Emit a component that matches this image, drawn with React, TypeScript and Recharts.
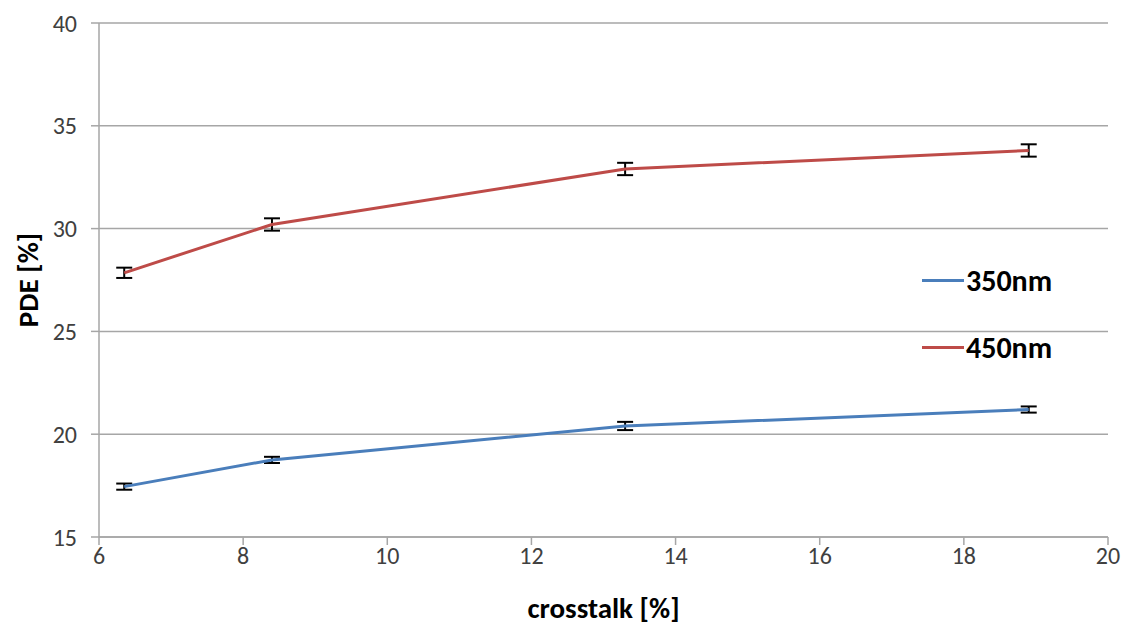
import {
  LineChart,
  Line,
  XAxis,
  YAxis,
  CartesianGrid,
  ErrorBar,
  Legend,
} from "recharts";

const crosstalk = [6.35, 8.4, 13.3, 18.9];
const pde350 = [17.45, 18.75, 20.4, 21.2];
const err350 = [0.15, 0.15, 0.2, 0.15];
const pde450 = [27.85, 30.2, 32.9, 33.8];
const err450 = [0.25, 0.3, 0.3, 0.3];

const xTicks = [6, 8, 10, 12, 14, 16, 18, 20];
const yTicks = [15, 20, 25, 30, 35, 40];

const BLUE = "#4a7ebb";
const RED = "#be4b48";
const FONT = "Carlito, 'Open Sans', sans-serif";

const data = crosstalk.map((x, i) => ({
  crosstalk: x,
  nm350: pde350[i],
  e350: err350[i],
  nm450: pde450[i],
  e450: err450[i],
}));

const legendItems = [
  { name: "350nm", color: BLUE },
  { name: "450nm", color: RED },
];

function LegendBox() {
  return (
    <div style={{ fontFamily: FONT }}>
      {legendItems.map((it, idx) => (
        <div
          key={it.name}
          style={{
            display: "flex",
            alignItems: "center",
            height: 36,
            marginBottom: idx === 0 ? 31 : 0,
          }}
        >
          <span
            style={{
              display: "inline-block",
              width: 42,
              height: 3,
              background: it.color,
              marginRight: 2,
            }}
          />
          <span style={{ fontSize: 30, fontWeight: 700, color: "#000" }}>
            {it.name}
          </span>
        </div>
      ))}
    </div>
  );
}

export default function App() {
  return (
    <div style={{ position: "absolute", left: 0, top: 0, background: "#fff" }}>
      <LineChart
        width={1126}
        height={628}
        data={data}
        margin={{ top: 23, right: 18, bottom: 0, left: 0 }}
      >
        <CartesianGrid vertical={false} stroke="#a6a6a6" strokeWidth={1.5} />
        <XAxis
          dataKey="crosstalk"
          type="number"
          domain={[6, 20]}
          ticks={xTicks}
          height={91}
          tickSize={8}
          tickMargin={2}
          stroke="#a6a6a6"
          strokeWidth={1.5}
          tick={{ fill: "#404040", fontSize: 24, fontFamily: FONT }}
          label={{
            value: "crosstalk [%]",
            position: "insideBottom",
            offset: 10,
            style: { fill: "#000", fontSize: 29, fontWeight: 700, fontFamily: FONT },
          }}
        />
        <YAxis
          type="number"
          domain={[15, 40]}
          ticks={yTicks}
          width={99}
          tickSize={8}
          tickMargin={14}
          stroke="#a6a6a6"
          strokeWidth={1.5}
          tick={{ fill: "#404040", fontSize: 24, fontFamily: FONT }}
          label={{
            value: "PDE [%]",
            angle: -90,
            position: "insideLeft",
            offset: 28,
            style: {
              fill: "#000",
              fontSize: 29,
              fontWeight: 700,
              fontFamily: FONT,
              textAnchor: "middle",
            },
          }}
        />
        <Legend
          layout="vertical"
          verticalAlign="middle"
          align="center"
          wrapperStyle={{ position: "absolute", left: 922, top: 262, width: 170 }}
          content={() => <LegendBox />}
        />
        <Line
          dataKey="nm350"
          name="350nm"
          type="linear"
          stroke={BLUE}
          strokeWidth={3}
          dot={false}
          isAnimationActive={false}
        >
          <ErrorBar dataKey="e350" direction="y" width={8} stroke="#000" strokeWidth={2} />
        </Line>
        <Line
          dataKey="nm450"
          name="450nm"
          type="linear"
          stroke={RED}
          strokeWidth={3}
          dot={false}
          isAnimationActive={false}
        >
          <ErrorBar dataKey="e450" direction="y" width={8} stroke="#000" strokeWidth={2} />
        </Line>
      </LineChart>
    </div>
  );
}
